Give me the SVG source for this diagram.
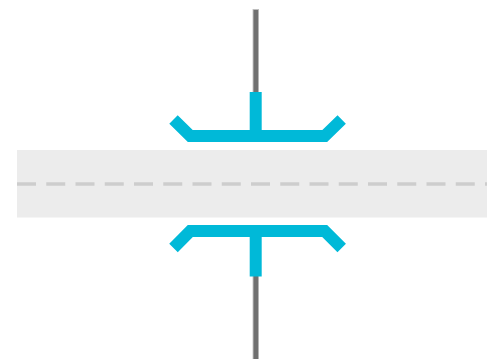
<svg xmlns="http://www.w3.org/2000/svg" width="487" height="359" viewBox="0 0 487 359">
<defs><filter id="soft" x="0" y="0" width="487" height="359" filterUnits="userSpaceOnUse"><feGaussianBlur stdDeviation="0.55"/></filter></defs>
<style>
.stem{fill:none;stroke:#707070;stroke-width:4.6}
.stem-edge{fill:none;stroke:#bdbdbd;stroke-width:6.4}
.plate{fill:none;stroke:#00b9d8;stroke-width:12;stroke-linejoin:miter}
.dash{fill:none;stroke:#cdcdcd;stroke-width:3.4;stroke-dasharray:19 10.25}
</style>
<rect width="487" height="359" fill="#fff"/>
<g filter="url(#soft)">
<g id="band">
<rect x="17" y="150" width="475" height="67.5" fill="#ececec"/>
<path class="dash" d="M17 184H492"/>
</g>
<g id="connectors">
<path class="stem-edge" d="M255.8 9V92"/>
<path class="stem" d="M255.8 10V92"/>
<path class="stem-edge" d="M255.8 276V365"/>
<path class="stem" d="M255.8 276V365"/>
</g>
<g id="top-plate">
<path class="plate" d="M255.7 92V136"/>
<path class="plate" d="M173.5 119.5L190.3 136H324.7L341.7 119.5"/>
</g>
<g id="bottom-plate">
<path class="plate" d="M255.7 276.5V231"/>
<path class="plate" d="M173.5 248L190.3 231H324.7L341.7 248"/>
</g>
</g>
</svg>
